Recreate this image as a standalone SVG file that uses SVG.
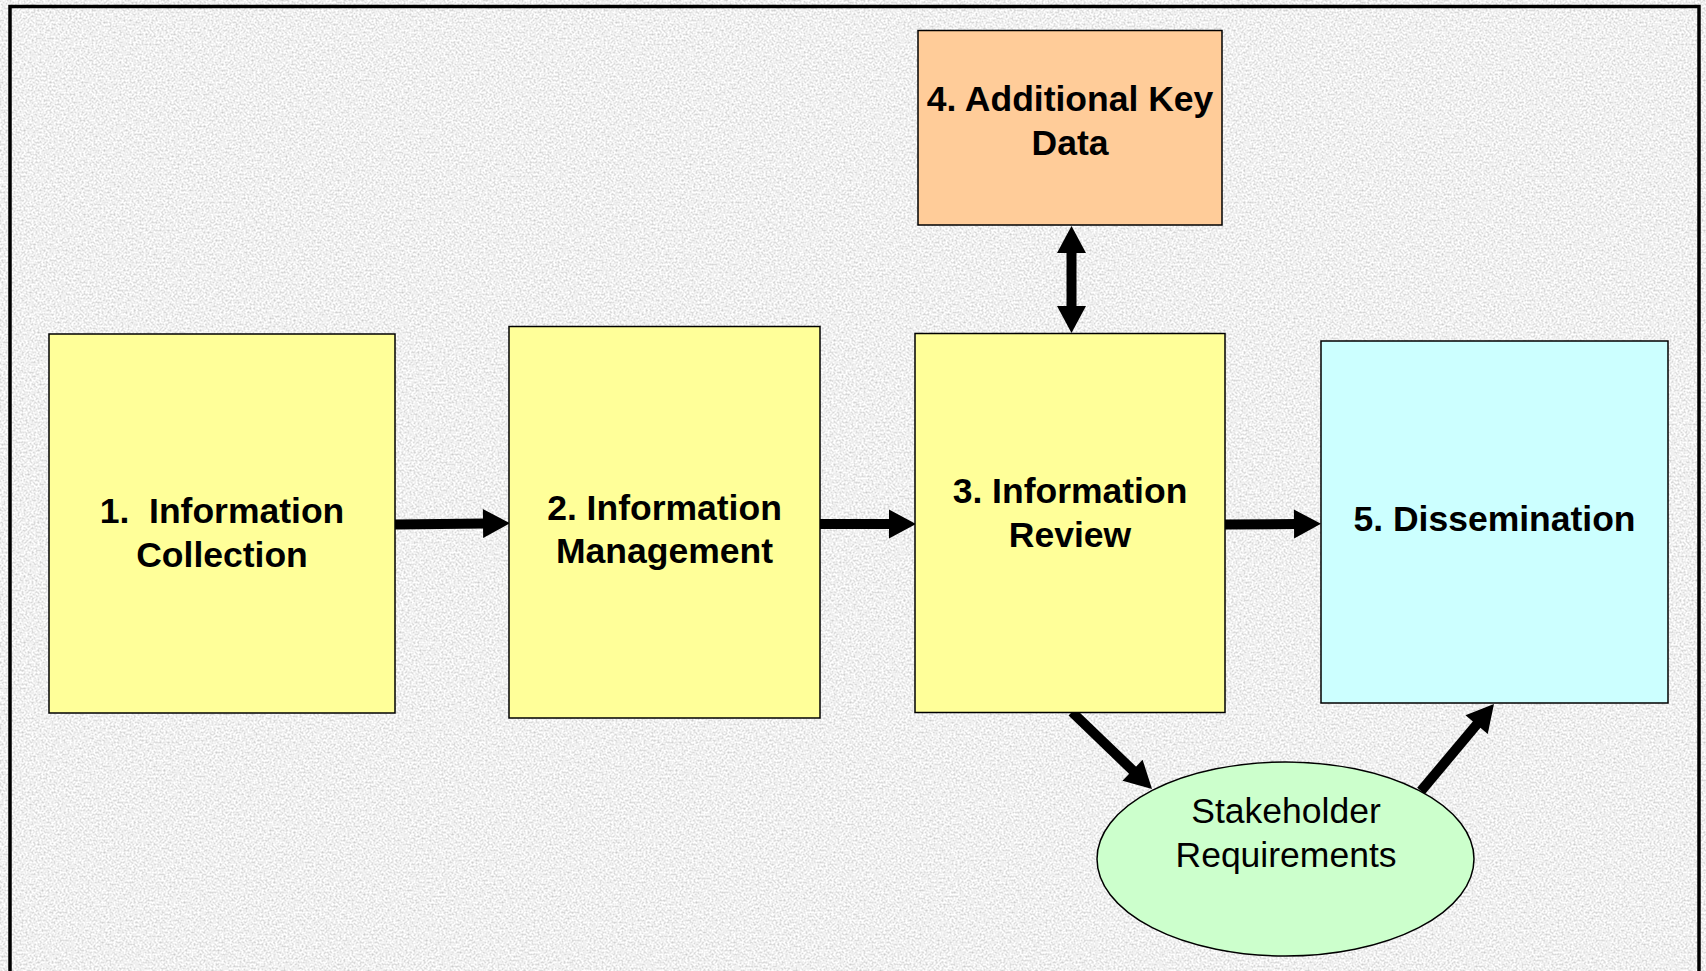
<svg xmlns="http://www.w3.org/2000/svg" width="1706" height="971" viewBox="0 0 1706 971">
<style>
.box{stroke:#000;stroke-width:1.5}
.t{font-family:"Liberation Sans",Arial,sans-serif;font-size:35.5px;font-weight:bold;fill:#000;text-anchor:middle;white-space:pre}
.tn{font-family:"Liberation Sans",Arial,sans-serif;font-size:35.5px;fill:#000;text-anchor:middle}
.arr{stroke:#000;stroke-width:10;fill:none;marker-end:url(#ah)}
</style>
<defs>
<filter id="granite" filterUnits="userSpaceOnUse" x="0" y="0" width="1706" height="971">
<feTurbulence type="fractalNoise" baseFrequency="0.5" numOctaves="3" seed="7" result="n"/>
<feColorMatrix in="n" type="matrix" values="0.8 0 0 0 0.47  0.8 0 0 0 0.47  0.8 0 0 0 0.47  0 0 0 0 1"/>
</filter>
<marker id="ah" markerUnits="userSpaceOnUse" markerWidth="30" markerHeight="30" viewBox="0 -15 28 30" refX="2" refY="0" orient="auto-start-reverse">
<path d="M0,-14.5 L27,0 L0,14.5 Z" fill="#000"/>
</marker>
</defs>
<rect x="0" y="0" width="1706" height="971" fill="#dedede"/>
<rect x="0" y="0" width="1706" height="971" filter="url(#granite)"/>
<rect x="10" y="6.5" width="1689" height="1000" fill="none" stroke="#000" stroke-width="3.5"/>

<g id="connectors">
<line class="arr" x1="395" y1="524.5" x2="485" y2="523.5"/>
<line class="arr" x1="820" y1="524" x2="891" y2="524"/>
<line class="arr" x1="1225" y1="524.5" x2="1296" y2="524"/>
<line class="arr" x1="1071.5" y1="251" x2="1071.5" y2="308" style="marker-start:url(#ah)"/>
<line class="arr" x1="1072" y1="712" x2="1134" y2="771.6"/>
<line class="arr" x1="1421" y1="791" x2="1477.9" y2="723.1"/>
</g>

<g id="node1">
<rect class="box" x="49" y="334" width="346" height="379" fill="#FFFF99"/>
<text class="t" x="222" y="523" xml:space="preserve">1.  Information</text>
<text class="t" x="222" y="567">Collection</text>
</g>
<g id="node2">
<rect class="box" x="509" y="326.5" width="311" height="391.5" fill="#FFFF99"/>
<text class="t" x="664.5" y="520">2. Information</text>
<text class="t" x="664.5" y="563">Management</text>
</g>
<g id="node3">
<rect class="box" x="915" y="333.5" width="310" height="379" fill="#FFFF99"/>
<text class="t" x="1070" y="503">3. Information</text>
<text class="t" x="1070" y="547">Review</text>
</g>
<g id="node4">
<rect class="box" x="918" y="30.5" width="304" height="194.5" fill="#FFCC99"/>
<text class="t" x="1070" y="111">4. Additional Key</text>
<text class="t" x="1070" y="154.5">Data</text>
</g>
<g id="node5">
<rect class="box" x="1321" y="341" width="347" height="362" fill="#CCFFFF"/>
<text class="t" x="1494.5" y="530.5">5. Dissemination</text>
</g>
<g id="node6">
<ellipse class="box" cx="1285.5" cy="859" rx="188.5" ry="97" fill="#CCFFCC"/>
<text class="tn" x="1286" y="823">Stakeholder</text>
<text class="tn" x="1286" y="867">Requirements</text>
</g>
</svg>
